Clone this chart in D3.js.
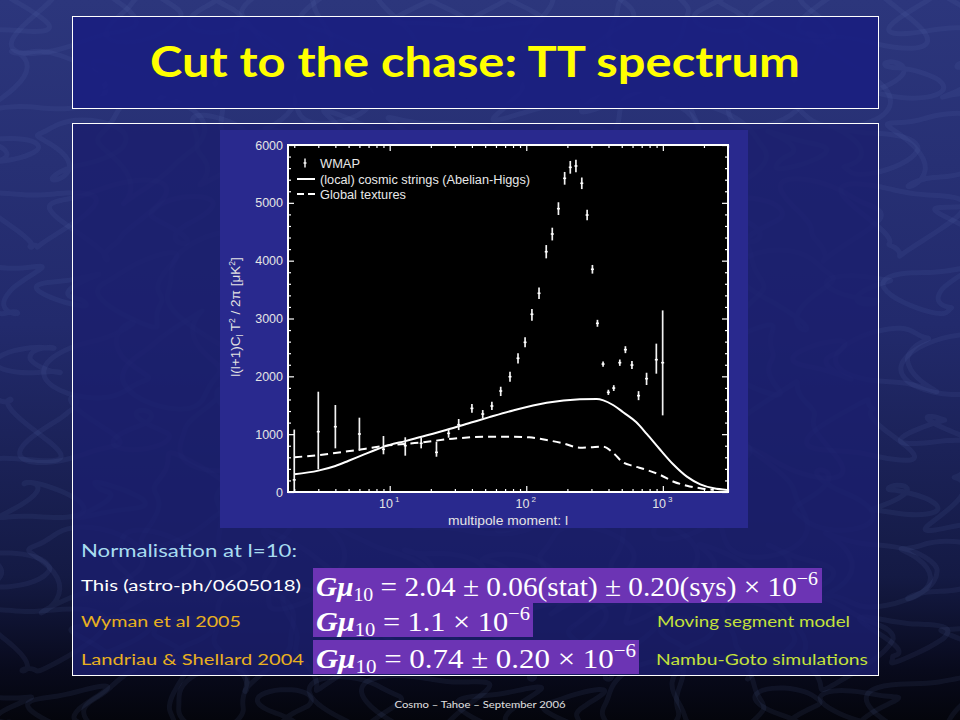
<!DOCTYPE html>
<html><head><meta charset="utf-8">
<script src="https://cdn.jsdelivr.net/npm/d3@7"></script>
<style>html,body{margin:0;padding:0;background:#000;} svg{display:block}</style>
</head><body>
<svg id="c" width="960" height="720"></svg>
<script>
// ---------- data ----------
const wmapL  = [2,3,4,6,9,13,17,22,27,32,40,48,56,65,76,87,98,110,124,140,155,172,191,210,231,255,279,305,332,365,399,437,484,532,594,664,760,896,997];
const wmapV  = [210,1043,1129,1003,738,801,842,686,1014,1163,1446,1348,1487,1746,1994,2312,2588,3073,3436,4155,4461,4899,5424,5614,5637,5338,4789,3851,2917,2212,1723,1797,2236,2461,2195,1666,1960,2288,2236];
const wmapLo = [0,392,755,714,652,628,755,610,939,1071,1371,1274,1418,1659,1906,2224,2501,2962,3336,4040,4350,4790,5314,5504,5527,5238,4699,3776,2857,2167,1678,1747,2181,2401,2125,1588,1850,2046,1325];
const wmapHi = [1080,1734,1504,1285,968,946,939,870,1089,1262,1521,1417,1561,1820,2079,2397,2674,3164,3536,4270,4570,5010,5534,5724,5747,5438,4879,3926,2977,2257,1768,1847,2291,2521,2265,1744,2062,2565,3140];

const stringL = [2,3,4,5,6.5,8,10,13,16.5,25.9,40.7,53,80,141,247,328,367,435,515,640,765,960,1200,1500,1880,2360,2950];
const stringV = [306,370,450,540,650,735,815,880,946,1072,1210,1290,1410,1544,1603,1608,1585,1500,1375,1205,1000,726,470,265,133,64,35];

const textureL = [2,3.05,5.3,9.4,16.5,29,53,80,105,141,186,247,292,367,435,515,610,765,960,1200,1500,1880,2360];
const textureV = [600,640,714,800,852,922,956,956,945,899,842,766,772,783,669,507,450,380,294,178,109,64,35];

const yTicks = [0,1000,2000,3000,4000,5000,6000];
const xTickExps = [1,2,3];
const legendLabels = ["WMAP","(local) cosmic strings (Abelian-Higgs)","Global textures"];

// ---------- canvas ----------
const svg = d3.select('#c');
const defs = svg.append('defs');
const bg = defs.append('linearGradient').attr('id','bg').attr('x1',0).attr('y1',0).attr('x2',0).attr('y2',1);
[[0,'#2c367c'],[0.45,'#222a6c'],[0.8,'#141a44'],[0.93,'#080a1c'],[1,'#04050c']].forEach(s=>bg.append('stop').attr('offset',s[0]).attr('stop-color',s[1]));
svg.append('rect').attr('width',960).attr('height',720).attr('fill','url(#bg)');

// decorative loop texture (deterministic parametric curves)
const tex = svg.append('g').attr('fill','none').attr('stroke','#7080c8').attr('stroke-opacity',0.09).attr('stroke-width',5);
for (let i=0;i<14;i++){
  for (let j=0;j<11;j++){
    const cx = i*72 + ((j%2)*36), cy = j*70 + 10;
    const R = 30 + 14*Math.sin(i*1.7+j*2.3);
    const pts = d3.range(0, 2*Math.PI+0.01, 0.2).map(t=>[
      cx + R*Math.cos(t)*(1+0.35*Math.sin(3*t+i+j)) + 18*Math.sin(2*t+j),
      cy + R*Math.sin(t)*(1+0.35*Math.cos(2*t+i)) ]);
    tex.append('path').attr('d', d3.line().curve(d3.curveBasisClosed)(pts));
  }
}

// title box
svg.append('rect').attr('x',72.5).attr('y',16.5).attr('width',806).attr('height',92)
  .attr('fill','#1a1e80').attr('fill-opacity',0.9).attr('stroke','#ffffff').attr('stroke-width',1);
svg.append('text').attr('x',475).attr('y',77).attr('text-anchor','middle')
  .attr('font-family','Lato, "DejaVu Sans", sans-serif').attr('font-weight','bold').attr('font-size',42)
  .attr('fill','#ffff00').attr('textLength',650).attr('lengthAdjust','spacingAndGlyphs')
  .text('Cut to the chase: TT spectrum');

// content box
svg.append('rect').attr('x',72.5).attr('y',123.5).attr('width',806).attr('height',552)
  .attr('fill','#1b1f6e').attr('fill-opacity',0.82).attr('stroke','#ffffff').attr('stroke-width',1);

// ---------- plot image ----------
svg.append('rect').attr('x',220).attr('y',130).attr('width',528).attr('height',398).attr('fill','#29298e');
const L=288, R=728, T=145, B=492;
const x = d3.scaleLog().domain([1.8,3000]).range([L,R]);
const y = d3.scaleLinear().domain([0,6000]).range([B,T]);
svg.append('rect').attr('x',L).attr('y',T).attr('width',R-L).attr('height',B-T).attr('fill','#000');

const g = svg.append('g');
const lineS = d3.line().x((d,i)=>x(stringL[i])).y((d,i)=>y(stringV[i])).curve(d3.curveMonotoneX);
const lineT = d3.line().x((d,i)=>x(textureL[i])).y((d,i)=>y(textureV[i])).curve(d3.curveMonotoneX);
g.append('path').attr('d',lineS(stringV)).attr('fill','none').attr('stroke','#fff').attr('stroke-width',2);
g.append('path').attr('d',lineT(textureV)).attr('fill','none').attr('stroke','#fff').attr('stroke-width',2).attr('stroke-dasharray','8,5');

// WMAP error bars
const wm = g.append('g');
wmapL.forEach((l,i)=>{
  wm.append('line').attr('x1',x(l)).attr('x2',x(l)).attr('y1',y(wmapLo[i])).attr('y2',y(wmapHi[i]))
    .attr('stroke','#f2f2f2').attr('stroke-width',1.7);
  wm.append('line').attr('x1',x(l)-1.5).attr('x2',x(l)+1.5).attr('y1',y(wmapV[i])).attr('y2',y(wmapV[i]))
    .attr('stroke','#fff').attr('stroke-width',1.6);
});

// frame
svg.append('rect').attr('x',L).attr('y',T).attr('width',R-L).attr('height',B-T)
  .attr('fill','none').attr('stroke','#fff').attr('stroke-width',2);

// axes
const majorX = xTickExps.map(e=>Math.pow(10,e));
const minorX = [];
[1,10,100,1000].forEach(d=>{ for(let k=2;k<=9;k++){ const v=d*k; if(v>=1.8 && v<=3000) minorX.push(v);} });
const minorY = d3.range(0,6001,200).filter(v=>v%1000!==0);
const tickStyle = sel => { sel.select('.domain').remove(); sel.selectAll('line').attr('stroke','#fff').attr('stroke-width',1.2); };

svg.append('g').attr('transform',`translate(0,${B})`).call(d3.axisBottom(x).tickValues(minorX).tickSize(-3).tickFormat('')).call(tickStyle);
svg.append('g').attr('transform',`translate(0,${T})`).call(d3.axisTop(x).tickValues(minorX).tickSize(-3).tickFormat('')).call(tickStyle);
svg.append('g').attr('transform',`translate(0,${T})`).call(d3.axisTop(x).tickValues(majorX).tickSize(-6).tickFormat('')).call(tickStyle);
const xa = svg.append('g').attr('transform',`translate(0,${B})`).call(d3.axisBottom(x).tickValues(majorX).tickSize(-6).tickPadding(7)).call(tickStyle);
xa.selectAll('text').each(function(d){
  const t=d3.select(this); t.text('');
  t.attr('font-family','"Liberation Sans", Arial, sans-serif').attr('font-size',12.5).attr('fill','#e4e4e4').attr('text-anchor','middle').attr('dx','-1');
  t.append('tspan').text('10');
  t.append('tspan').attr('dy','-6').attr('dx','2').attr('font-size',8).text(String(Math.round(Math.log10(d))));
});
svg.append('g').attr('transform',`translate(${L},0)`).call(d3.axisLeft(y).tickValues(minorY).tickSize(-3).tickFormat('')).call(tickStyle);
svg.append('g').attr('transform',`translate(${R},0)`).call(d3.axisRight(y).tickValues(minorY).tickSize(-3).tickFormat('')).call(tickStyle);
svg.append('g').attr('transform',`translate(${R},0)`).call(d3.axisRight(y).tickValues(yTicks).tickSize(-6).tickFormat('')).call(tickStyle);
const ya = svg.append('g').attr('transform',`translate(${L},0)`).call(d3.axisLeft(y).tickValues(yTicks).tickSize(-6).tickPadding(5).tickFormat(d3.format('d'))).call(tickStyle);
ya.selectAll('text').attr('font-family','"Liberation Sans", Arial, sans-serif').attr('font-size',12.5).attr('fill','#e4e4e4');

// axis titles
svg.append('text').attr('x',508).attr('y',525).attr('text-anchor','middle')
  .attr('font-family','"Liberation Sans", Arial, sans-serif').attr('font-size',13.5).attr('fill','#e4e4e4')
  .attr('textLength',120).attr('lengthAdjust','spacingAndGlyphs')
  .text('multipole moment: l');
const yt = svg.append('text').attr('transform','translate(240,317) rotate(-90)').attr('text-anchor','middle')
  .attr('font-family','"Liberation Sans", Arial, sans-serif').attr('font-size',13.5).attr('fill','#e4e4e4');
yt.append('tspan').text('l(l+1)C');
yt.append('tspan').attr('dy',3).attr('font-size',8.5).text('l');
yt.append('tspan').attr('dy',-3).text(' T');
yt.append('tspan').attr('dy',-5).attr('font-size',8.5).text('2');
yt.append('tspan').attr('dy',5).text(' / 2π [μK');
yt.append('tspan').attr('dy',-5).attr('font-size',8.5).text('2');
yt.append('tspan').attr('dy',5).text(']');

// legend
const lg = svg.append('g').attr('font-family','"Liberation Sans", Arial, sans-serif').attr('font-size',12.5).attr('fill','#e8e8e8');
const lgY = [163,179,194];
const lgLen = [40,210,86];
lg.append('line').attr('x1',305).attr('x2',305).attr('y1',lgY[0]-4.5).attr('y2',lgY[0]+4.5).attr('stroke','#fff').attr('stroke-width',1.4);
lg.append('line').attr('x1',303.5).attr('x2',306.5).attr('y1',lgY[0]).attr('y2',lgY[0]).attr('stroke','#fff').attr('stroke-width',1.4);
lg.append('line').attr('x1',297).attr('x2',315).attr('y1',lgY[1]).attr('y2',lgY[1]).attr('stroke','#fff').attr('stroke-width',2);
lg.append('line').attr('x1',297).attr('x2',315).attr('y1',lgY[2]).attr('y2',lgY[2]).attr('stroke','#fff').attr('stroke-width',2).attr('stroke-dasharray','7,4');
legendLabels.forEach((s,i)=>lg.append('text').attr('x',320).attr('y',lgY[i]+4.5)
  .attr('textLength',lgLen[i]).attr('lengthAdjust','spacingAndGlyphs').text(s));

// ---------- lower text panel ----------
const sans = 'Lato, "Open Sans", sans-serif';
const addT = (s,xx,yy,col,sz,len) => svg.append('text').attr('x',xx).attr('y',yy).attr('font-family',sans)
  .attr('font-size',sz).attr('fill',col).attr('textLength',len).attr('lengthAdjust','spacingAndGlyphs').text(s);
addT('Normalisation at l=10:',81,557,'#a8dcf0',16.5,216);
addT('This (astro-ph/0605018)',81,591,'#ffffff',14.5,220);
addT('Wyman et al 2005',81,627,'#e8b020',14.5,160);
addT('Landriau & Shellard 2004',81,665,'#e8b020',14.5,223);
addT('Moving segment model',657,627,'#c4e23a',14.5,193);
addT('Nambu-Goto simulations',656,665,'#c4e23a',14.5,212);

// formula boxes
const purple = '#6c34b4';
svg.append('rect').attr('x',313).attr('y',568).attr('width',509).attr('height',35).attr('fill',purple);
svg.append('rect').attr('x',313).attr('y',603).attr('width',220).attr('height',34).attr('fill',purple);
svg.append('rect').attr('x',313).attr('y',640).attr('width',326).attr('height',34).attr('fill',purple);
function formula(yy, rest, len){
  const t = svg.append('text').attr('x',316).attr('y',yy).attr('font-family','"Liberation Serif", "Times New Roman", serif')
    .attr('font-size',28).attr('fill','#fff').attr('textLength',len).attr('lengthAdjust','spacingAndGlyphs');
  t.append('tspan').attr('font-style','italic').attr('font-weight','bold').text('Gμ');
  t.append('tspan').attr('font-size',19).attr('dy',5).text('10');
  t.append('tspan').attr('dy',-5).text(' = ' + rest + ' × 10');
  t.append('tspan').attr('font-size',19).attr('dy',-11).text('−6');
}
formula(596,'2.04 ± 0.06(stat) ± 0.20(sys)',502);
formula(631,'1.1',214);
formula(668,'0.74 ± 0.20',320);

// footer
svg.append('text').attr('x',480).attr('y',708).attr('text-anchor','middle').attr('font-family',sans)
  .attr('font-size',10).attr('fill','#e0e0e0').attr('textLength',171).attr('lengthAdjust','spacingAndGlyphs')
  .text('Cosmo – Tahoe – September 2006');
</script>
</body></html>
